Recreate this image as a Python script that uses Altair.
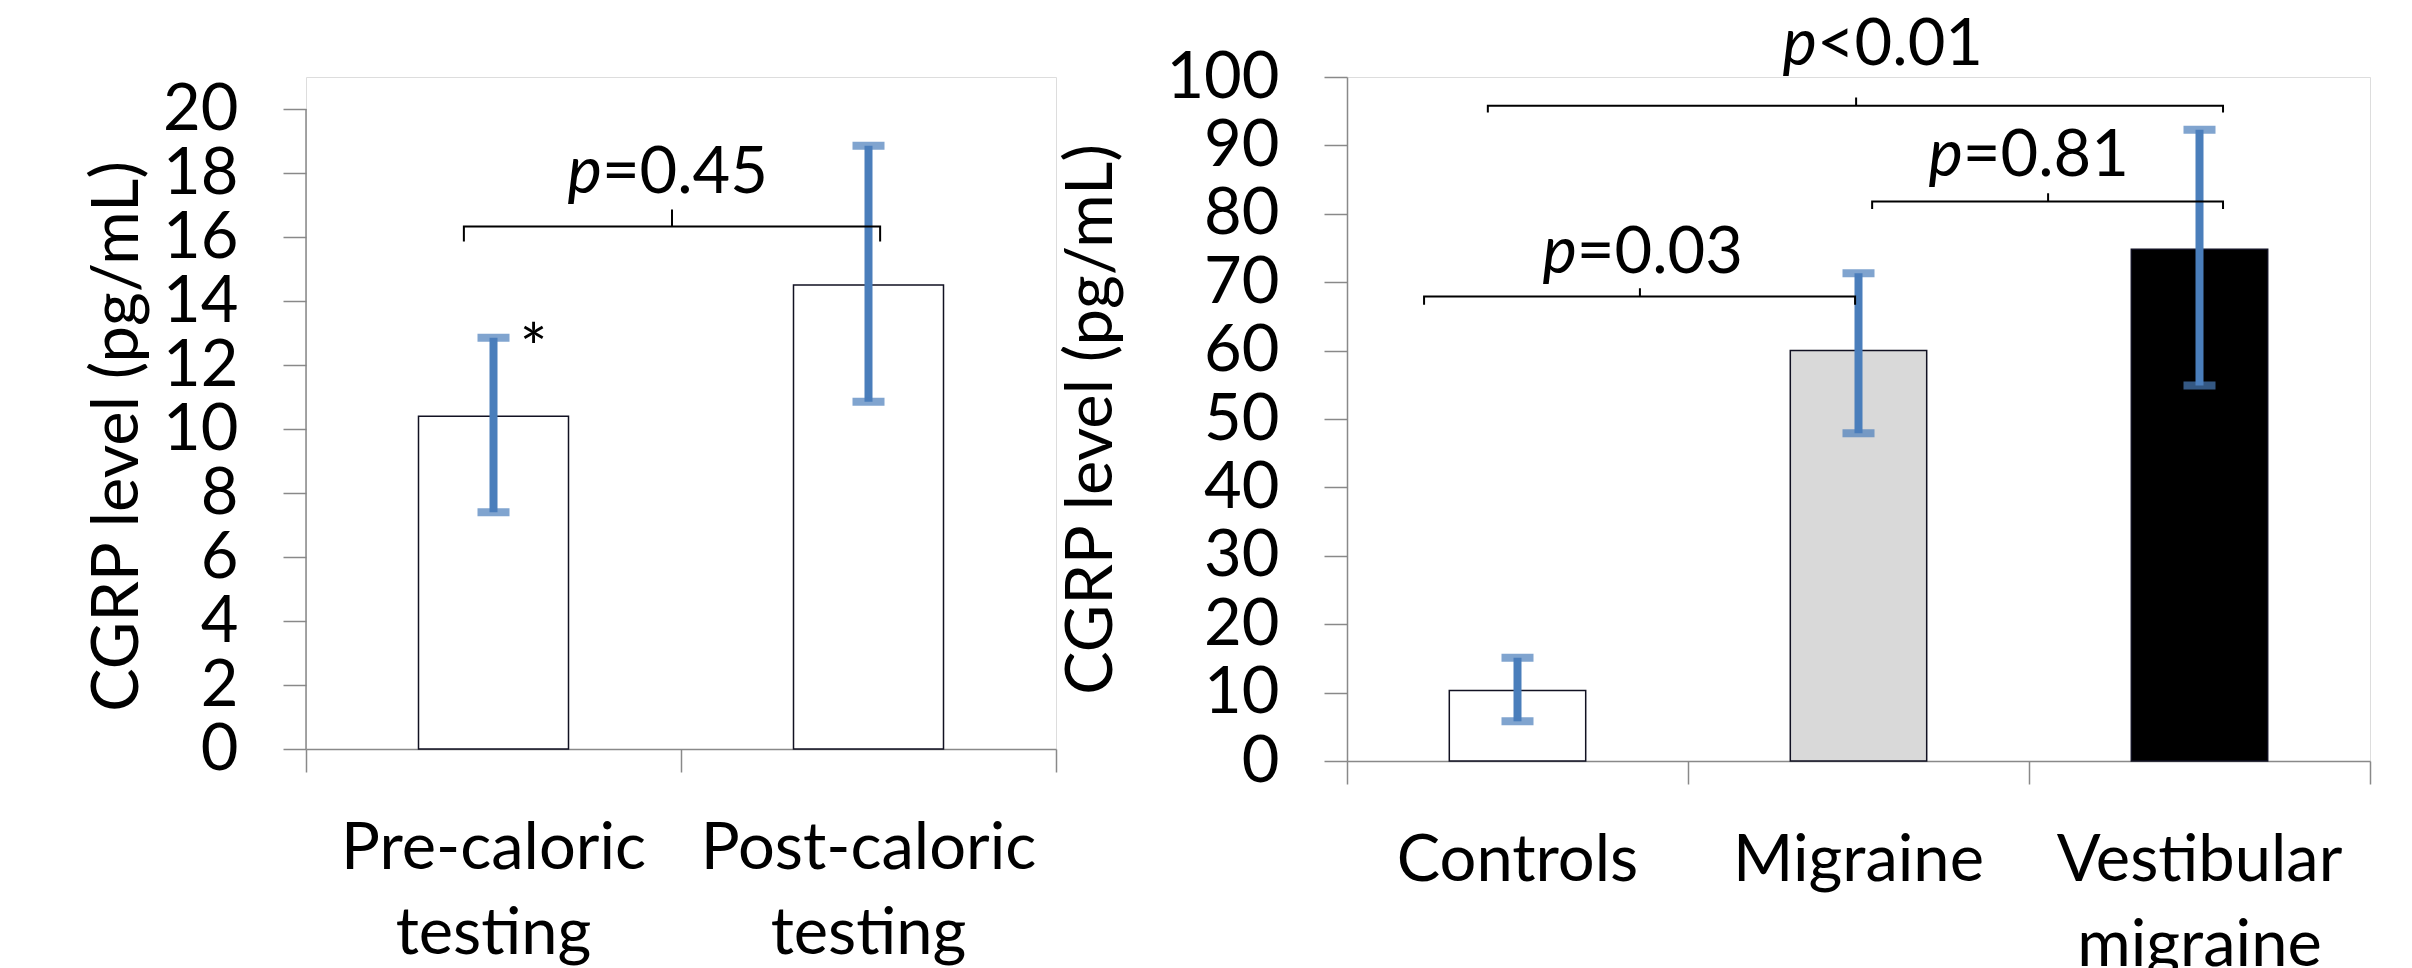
import altair as alt
import pandas as pd

# ---------------- data ----------------
left_categories = ["Pre-caloric\ntesting", "Post-caloric\ntesting"]
left_means = [10.4, 14.5]
left_err_low = [7.4, 10.85]
left_err_high = [12.85, 18.85]
left_fills = ["white", "white"]
left_ticks = [0, 2, 4, 6, 8, 10, 12, 14, 16, 18, 20]

right_categories = ["Controls", "Migraine", "Vestibular\nmigraine"]
right_means = [10.3, 60.0, 74.8]
right_err_low = [5.8, 47.9, 54.9]
right_err_high = [15.1, 71.3, 92.3]
right_fills = ["white", "#D9D9D9", "black"]
right_ticks = [0, 10, 20, 30, 40, 50, 60, 70, 80, 90, 100]

left_pvalues = ["=0.45"]
right_pvalues = ["<0.01", "=0.81", "=0.03"]

# ---------------- styles ----------------
FONT = "Lato"
FS = 65
GRAY = "#898989"
BLUE = "#4A7EBB"
TITLE = "CGRP level (pg/mL)"


def bars_frame(cats, means, lo, hi, fills):
    return pd.DataFrame({
        "cat": cats,
        "pos": [i + 0.5 for i in range(len(cats))],
        "x0": [i + 0.3 for i in range(len(cats))],
        "x1": [i + 0.7 for i in range(len(cats))],
        "mean": means,
        "lo": lo,
        "hi": hi,
        "fill": fills,
    })


def bracket_frame(brackets):
    rows = []
    for bid, (xl, xr, xt, y, leg, tip) in enumerate(brackets):
        pts = [(xl, y - leg), (xl, y), (xt, y), (xt, y + tip), (xt, y), (xr, y), (xr, y - leg)]
        for k, (px, py) in enumerate(pts):
            rows.append({"bid": bid, "k": k, "bx": px, "by": py})
    return pd.DataFrame(rows)


def panel(df, n, ymax, width, height, yticks, ydomain_line, brackets, ptexts, title_y=None,
          title_pad=10, star=False):
    xs = alt.Scale(domain=[0, n], nice=False, zero=False)
    ys = alt.Scale(domain=[0, ymax], nice=False, zero=True)
    yaxis_kw = dict(values=yticks, domain=ydomain_line, domainColor=GRAY, domainWidth=1.5,
                    tickSize=23, tickColor=GRAY, tickWidth=1.5,
                    labelFontSize=FS, labelFont=FONT, labelColor="black", labelPadding=45,
                    labelOverlap=False, title=TITLE, titleFontSize=FS, titleFont=FONT,
                    titleFontWeight="normal", titleColor="black", titlePadding=title_pad,
                    grid=False)
    if title_y is not None:
        yaxis_kw["titleY"] = title_y
    xaxis = alt.Axis(values=list(range(n + 1)), labels=False, title=None, grid=False,
                     tickSize=23, tickColor=GRAY, tickWidth=1.5, domainColor=GRAY,
                     domainWidth=1.5)

    base = alt.Chart(df)
    bars = base.mark_bar(stroke="#111122", strokeWidth=1.5).encode(
        x=alt.X("x0:Q", scale=xs, axis=xaxis),
        x2="x1:Q",
        y=alt.Y("mean:Q", scale=ys, axis=alt.Axis(**yaxis_kw)),
        y2=alt.datum(0),
        fill=alt.Fill("fill:N", scale=None),
    )
    err = base.mark_rule(color=BLUE, strokeWidth=8).encode(
        x="pos:Q", y="lo:Q", y2="hi:Q")
    cap_hi = base.mark_tick(color=BLUE, orient="horizontal", size=32, thickness=8).encode(
        x="pos:Q", y="hi:Q")
    cap_lo = base.mark_tick(color=BLUE, orient="horizontal", size=32, thickness=8).encode(
        x="pos:Q", y="lo:Q")
    labels = base.mark_text(font=FONT, fontSize=FS, baseline="alphabetic", align="center",
                            dy=120, lineBreak="\n", lineHeight=85, color="black").encode(
        x="pos:Q", y=alt.datum(0), text="cat:N")

    bdf = bracket_frame(brackets)
    br = alt.Chart(bdf).mark_line(color="black", strokeWidth=2).encode(
        x="bx:Q", y="by:Q", detail="bid:N", order="k:Q")

    tdf = pd.DataFrame(ptexts)
    p_it = alt.Chart(tdf).mark_text(font=FONT, fontSize=FS, fontStyle="italic", align="right",
                                    baseline="alphabetic", color="black").encode(
        x="tx:Q", y="ty:Q", text=alt.value("p"))
    p_rest = alt.Chart(tdf).mark_text(font=FONT, fontSize=FS, align="left",
                                      baseline="alphabetic", color="black").encode(
        x="tx:Q", y="ty:Q", text="label:N")

    layers = [bars, err, cap_hi, cap_lo, labels, br, p_it, p_rest]
    if not ydomain_line:
        axis_line = alt.Chart(pd.DataFrame({"a": [0], "b": [yticks[0]], "c": [yticks[-1]]})) \
            .mark_rule(color=GRAY, strokeWidth=1.5).encode(x="a:Q", y="b:Q", y2="c:Q")
        layers.append(axis_line)
    if star:
        st = alt.Chart(df.iloc[[0]]).mark_text(font=FONT, fontSize=FS, align="center",
                                               baseline="alphabetic", dx=40, dy=34,
                                               color="black").encode(
            x="pos:Q", y="hi:Q", text=alt.value("*"))
        layers.append(st)
    return alt.layer(*layers).properties(width=width, height=height)


left_df = bars_frame(left_categories, left_means, left_err_low, left_err_high, left_fills)
right_df = bars_frame(right_categories, right_means, right_err_low, right_err_high, right_fills)

left_brackets = [(0.421, 1.531, 0.976, 16.33, 0.47, 0.53)]
left_ptexts = {"tx": [0.789], "ty": [17.37], "label": left_pvalues}

right_brackets = [
    (0.413, 2.569, 1.493, 95.8, 1.0, 1.2),
    (1.540, 2.569, 2.056, 81.8, 1.1, 1.2),
    (0.226, 1.490, 0.859, 67.9, 1.2, 1.2),
]
right_ptexts = {"tx": [1.378, 1.806, 0.674], "ty": [101.8, 85.5, 71.3], "label": right_pvalues}

left = panel(left_df, 2, 21, 750, 672, left_ticks, False, left_brackets, left_ptexts,
             title_y=359, title_pad=11, star=True)
right = panel(right_df, 3, 100, 1023, 684, right_ticks, True, right_brackets, right_ptexts,
              title_pad=40)

chart = alt.hconcat(left, right, spacing=1).properties(
    padding={"left": 77, "top": 4, "right": 0, "bottom": 0}
).configure_view(stroke=None).configure(font=FONT)

chart.save("out.html", embed_options={"renderer": "svg", "actions": False})
